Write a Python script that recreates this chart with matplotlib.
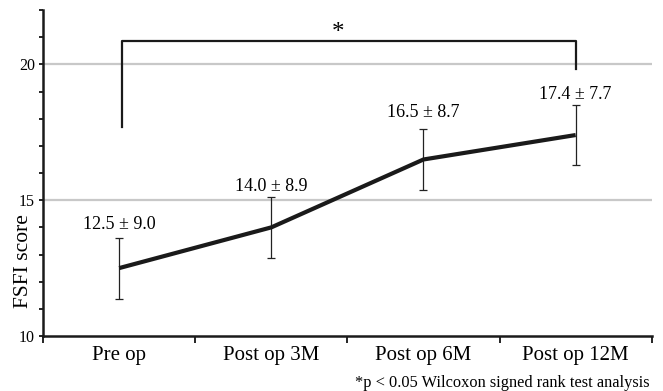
import numpy as np
import matplotlib
matplotlib.use('Agg')
import matplotlib.pyplot as plt
from matplotlib.ticker import MultipleLocator, FixedLocator, NullFormatter

CATEGORIES = ['Pre op', 'Post op 3M', 'Post op 6M', 'Post op 12M']
MEANS = [12.5, 14.0, 16.5, 17.4]
SDS = [9.0, 8.9, 8.7, 7.7]
ERRORS = [1.12, 1.13, 1.12, 1.12]
BRACKET_Y = [17.7, 20.85, 19.85]
FOOTNOTE = '*p < 0.05 Wilcoxon signed rank test analysis'

plt.rcParams['font.family'] = ['Liberation Serif', 'DejaVu Serif']

fig = plt.figure(figsize=(6.63, 3.91), dpi=100)
ax = fig.add_axes([0.065, 0.1407, 0.918, 0.8334])

x = np.arange(len(CATEGORIES))

for yv in (15, 20):
    ax.axhline(yv, color='#c8c8c8', lw=1.6, zorder=0)

ax.errorbar(x, MEANS, yerr=ERRORS, fmt='none', ecolor='#222222',
            elinewidth=0.9, capsize=3, capthick=0.9, zorder=2)
ax.plot(x, MEANS, color='#1a1a1a', lw=3, solid_capstyle='butt', zorder=3)

label_offsets = [3.5, 1.5, 6, 1.5]
for i, (m, s, e) in enumerate(zip(MEANS, SDS, ERRORS)):
    ax.annotate('%.1f ± %.1f' % (m, s), (x[i], m + e), xytext=(0, label_offsets[i]),
                textcoords='offset points', ha='center', va='bottom', fontsize=13)

# significance bracket between pre op and 12M
ax.plot([0.02, 0.02, 3.0, 3.0], BRACKET_Y[:1] + [BRACKET_Y[1]] * 2 + BRACKET_Y[2:],
        color='#1a1a1a', lw=1.6, zorder=3)
ax.text(1.44, 21.15, '*', ha='center', va='center', fontsize=18)

ax.set_xlim(-0.5, 3.5)
ax.set_ylim(10, 22)
ax.set_yticks([10, 15, 20])
ax.yaxis.set_minor_locator(MultipleLocator(1))
ax.tick_params(axis='y', which='both', direction='out', length=3, width=1.2,
               labelsize=11.5, pad=3)

ax.xaxis.set_major_locator(FixedLocator([-0.5, 0.5, 1.5, 2.5, 3.5]))
ax.xaxis.set_major_formatter(NullFormatter())
ax.xaxis.set_minor_locator(FixedLocator(x))
ax.set_xticklabels(CATEGORIES, minor=True)
ax.tick_params(axis='x', which='major', direction='out', length=5, width=1.2)
ax.tick_params(axis='x', which='minor', length=0, labelsize=15, pad=7)

ax.set_ylabel('FSFI score', fontsize=15.5, va='center')
ax.yaxis.set_label_coords(-0.033, 0.23)

for side in ('top', 'right'):
    ax.spines[side].set_visible(False)
for side in ('left', 'bottom'):
    ax.spines[side].set_linewidth(1.8)
    ax.spines[side].set_color('#1a1a1a')

fig.text(0.98, 0.02, FOOTNOTE, ha='right', va='center', fontsize=11.8)

fig.savefig('out.png', dpi=100)
